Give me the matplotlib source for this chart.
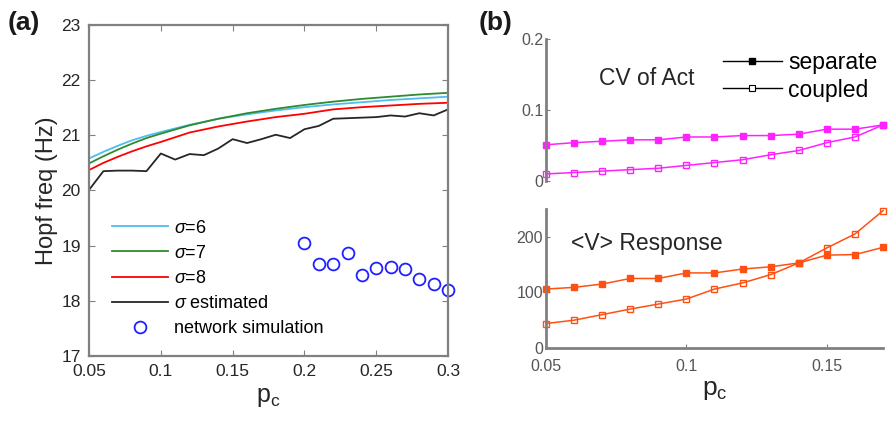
import numpy as np
import matplotlib.pyplot as plt

plt.rcParams['font.family'] = ['Liberation Sans', 'DejaVu Sans']
plt.rcParams['mathtext.fontset'] = 'custom'
plt.rcParams['mathtext.rm'] = 'Liberation Sans'
plt.rcParams['mathtext.it'] = 'Liberation Sans:italic'

# panel (a) data
pc_curve = [0.05, 0.06, 0.07, 0.08, 0.09, 0.10, 0.12, 0.14, 0.16, 0.18, 0.20,
            0.22, 0.24, 0.26, 0.28, 0.30]
hopf_s6 = [20.58, 20.70, 20.81, 20.91, 20.99, 21.06, 21.19, 21.30, 21.38, 21.45,
           21.51, 21.56, 21.60, 21.64, 21.67, 21.70]
hopf_s7 = [20.49, 20.62, 20.74, 20.85, 20.95, 21.03, 21.18, 21.30, 21.40, 21.48,
           21.55, 21.61, 21.66, 21.70, 21.74, 21.77]
hopf_s8 = [20.37, 20.50, 20.61, 20.71, 20.80, 20.88, 21.05, 21.16, 21.25, 21.33,
           21.39, 21.47, 21.51, 21.54, 21.57, 21.59]

pc_est = [0.05, 0.06, 0.07, 0.08, 0.09, 0.10, 0.11, 0.12, 0.13, 0.14, 0.15, 0.16,
          0.17, 0.18, 0.19, 0.20, 0.21, 0.22, 0.23, 0.24, 0.25, 0.26, 0.27, 0.28,
          0.29, 0.30]
hopf_est = [20.01, 20.35, 20.36, 20.36, 20.35, 20.67, 20.56, 20.66, 20.64, 20.76,
            20.93, 20.86, 20.93, 21.01, 20.95, 21.11, 21.17, 21.30, 21.31, 21.32,
            21.33, 21.36, 21.34, 21.40, 21.36, 21.47]

pc_sim = [0.20, 0.21, 0.22, 0.23, 0.24, 0.25, 0.26, 0.27, 0.28, 0.29, 0.30]
hopf_sim = [19.04, 18.67, 18.66, 18.87, 18.46, 18.59, 18.62, 18.57, 18.39, 18.31, 18.20]

# panel (b) data
pc_b = [0.05, 0.06, 0.07, 0.08, 0.09, 0.10, 0.11, 0.12, 0.13, 0.14, 0.15, 0.16, 0.17]
cv_sep = [0.051, 0.054, 0.056, 0.058, 0.058, 0.062, 0.062, 0.064, 0.064, 0.066,
          0.073, 0.073, 0.079]
cv_cpl = [0.010, 0.012, 0.014, 0.016, 0.018, 0.022, 0.026, 0.030, 0.037, 0.043,
          0.054, 0.062, 0.079]
v_sep = [106, 109, 115, 125, 125, 135, 135, 142, 146, 153, 167, 168, 181]
v_cpl = [44, 50, 60, 70, 79, 88, 106, 117, 132, 153, 180, 205, 247]

spine_col = '#808080'
tick_col = '#262626'

fig = plt.figure(figsize=(8.92, 4.23), dpi=100)

# ---- panel (a)
ax = fig.add_axes([0.0998, 0.1584, 0.4025, 0.7826])
ax.plot(pc_curve, hopf_s6, color='#4DBEEE', lw=1.3, label=r'$\mathit{\sigma}$=6')
ax.plot(pc_curve, hopf_s7, color='#2E8B2E', lw=1.3, label=r'$\mathit{\sigma}$=7')
ax.plot(pc_curve, hopf_s8, color='#FF0000', lw=1.3, label=r'$\mathit{\sigma}$=8')
ax.plot(pc_est, hopf_est, color='#262626', lw=1.3, label=r'$\mathit{\sigma}$ estimated')
ax.plot(pc_sim, hopf_sim, 'o', ms=8.5, mfc='none', mec='#2020FF', mew=1.3,
        label='network simulation', clip_on=False)
ax.set_xlim(0.05, 0.3)
ax.set_ylim(17, 23)
ax.set_xticks([0.05, 0.1, 0.15, 0.2, 0.25, 0.3])
ax.set_xticklabels(['0.05', '0.1', '0.15', '0.2', '0.25', '0.3'])
ax.set_yticks(range(17, 24))
ax.tick_params(direction='in', length=4, width=0.8, top=True, right=True,
               labelsize=12.5, colors=spine_col, labelcolor=tick_col, pad=6)
for s in ax.spines.values():
    s.set_color(spine_col)
    s.set_linewidth(1.6)
ax.set_ylabel('Hopf freq (Hz)', fontsize=17, color=tick_col, labelpad=2)
ax.set_xlabel(r'p$_\mathrm{c}$', fontsize=18, color=tick_col, labelpad=4)
ax.legend(loc='lower left', bbox_to_anchor=(0.045, 0.035), frameon=False,
          fontsize=13, handlelength=3.1, handletextpad=0.3, labelspacing=0.45,
          borderaxespad=0.0)
fig.text(0.008, 0.93, '(a)', fontsize=19, fontweight='bold', color='#1a1a1a')

# ---- panel (b) top
ax1 = fig.add_axes([0.612, 0.572, 0.378, 0.336])
ax1.plot(pc_b, cv_sep, '-s', color='#FF22FF', lw=1.1, ms=5, mfc='#FF22FF',
         mec='#FF22FF', clip_on=False)
ax1.plot(pc_b, cv_cpl, '-s', color='#FF22FF', lw=1.1, ms=5, mfc='none',
         mec='#FF22FF', mew=1.0, clip_on=False)
ax1.set_xlim(0.05, 0.17)
ax1.set_ylim(0, 0.2)
ax1.set_yticks([0, 0.1, 0.2])
ax1.set_yticklabels(['0', '0.1', '0.2'])
for k in ['top', 'right', 'bottom']:
    ax1.spines[k].set_visible(False)
ax1.spines['left'].set_color(spine_col)
ax1.spines['left'].set_linewidth(2)
ax1.set_xticks([])
ax1.tick_params(axis='y', direction='in', length=3, colors=spine_col,
                labelcolor='#555555', labelsize=11.5, pad=2)
ax1.text(0.3, 0.72, 'CV of Act', transform=ax1.transAxes, fontsize=16.5,
         color=tick_col, ha='center', va='center')
l1, = ax1.plot([], [], '-s', color='black', lw=1, ms=4, label='separate')
l2, = ax1.plot([], [], '-s', color='black', lw=1, ms=4, mfc='white',
               mew=0.8, label='coupled')
ax1.legend(handles=[l1, l2], loc='upper left', bbox_to_anchor=(0.497, 0.98),
           frameon=False, fontsize=16.5, handlelength=2.6, handletextpad=0.25,
           labelspacing=0.2, borderaxespad=0.0)

# ---- panel (b) bottom
ax2 = fig.add_axes([0.612, 0.1773, 0.378, 0.3287])
ax2.plot(pc_b, v_sep, '-s', color='#FF5014', lw=1.1, ms=5, mfc='#FF5014',
         mec='#FF5014', clip_on=False)
ax2.plot(pc_b, v_cpl, '-s', color='#FF5014', lw=1.1, ms=5, mfc='none',
         mec='#FF5014', mew=1.0, clip_on=False)
ax2.set_xlim(0.05, 0.17)
ax2.set_ylim(0, 250)
ax2.set_yticks([0, 100, 200])
ax2.set_xticks([0.05, 0.1, 0.15])
ax2.set_xticklabels(['0.05', '0.1', '0.15'])
for k in ['top', 'right']:
    ax2.spines[k].set_visible(False)
for k in ['left', 'bottom']:
    ax2.spines[k].set_color(spine_col)
    ax2.spines[k].set_linewidth(2)
ax2.tick_params(direction='in', length=3, colors=spine_col,
                labelcolor='#555555', labelsize=11.5, pad=2)
ax2.tick_params(axis='x', pad=8)
ax2.text(0.3, 0.755, '<V> Response', transform=ax2.transAxes, fontsize=16.5,
         color=tick_col, ha='center', va='center')
ax2.set_xlabel(r'p$_\mathrm{c}$', fontsize=19, color=tick_col, labelpad=3)
fig.text(0.537, 0.93, '(b)', fontsize=19, fontweight='bold', color='#1a1a1a')

fig.savefig('out.png', dpi=100)
